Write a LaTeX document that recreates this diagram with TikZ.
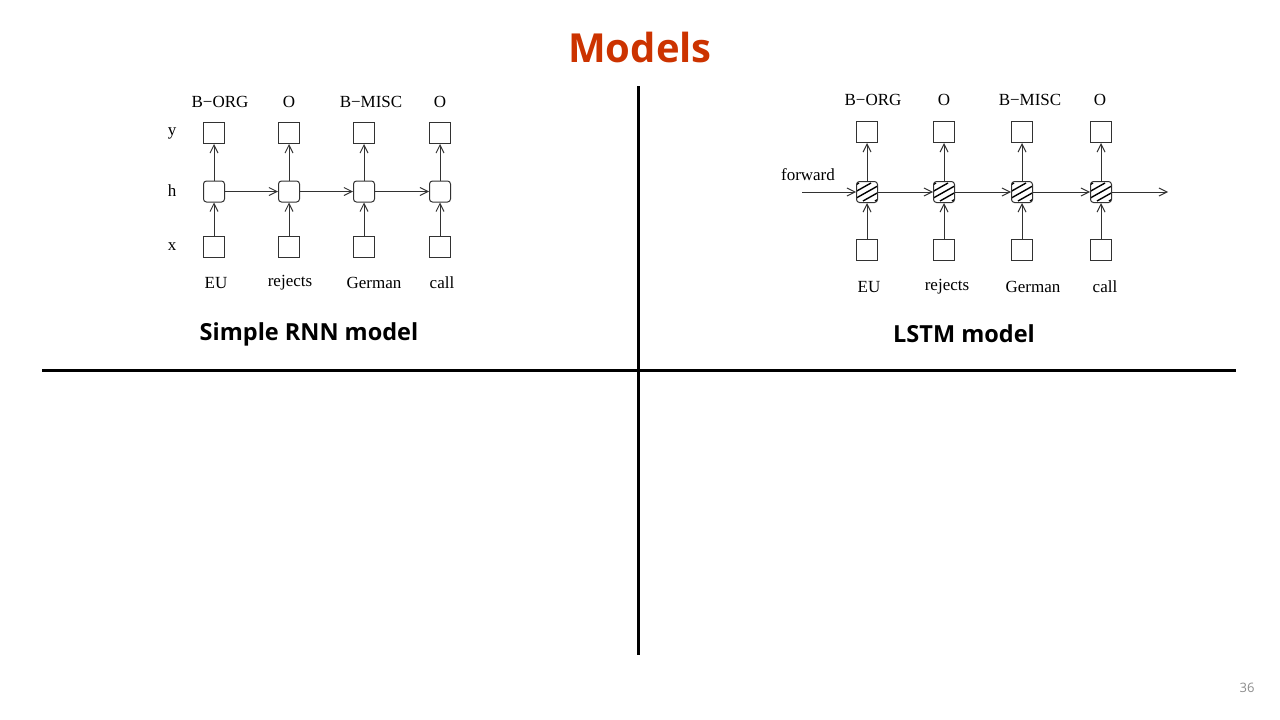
\documentclass[tikz,border=0pt]{standalone}
\usepackage{fontspec}
\setmainfont{Liberation Serif}
\newfontfamily\headfont{Open Sans}
\usetikzlibrary{arrows.meta,calc}
\definecolor{titlered}{RGB}{204,51,0}
\definecolor{ink}{RGB}{50,50,50}
\definecolor{pagegray}{RGB}{140,140,140}
\tikzset{
  diag/.style={font=\fontsize{17}{20}\selectfont, text=black},
  sqbox/.style={draw=ink, line width=1pt, minimum width=21pt, minimum height=21pt, inner sep=0pt},
  hbox/.style={sqbox, rounded corners=3pt},
  lbox/.style={hbox, fill=white, path picture={
      \foreach \i in {-2,...,2}
        \draw[line width=1.4pt, black] ($(path picture bounding box.center)+(\i*12-16,9)$) -- ++(32,-18);
    }},
  conn/.style={draw=ink, line width=1pt, -{Straight Barb[length=8pt,width=8pt]}},
  divider/.style={line width=3pt, black},
  caption/.style={font=\headfont\bfseries\fontsize{23.5}{27}\selectfont},
}
\begin{document}
\begin{tikzpicture}[x=1pt,y=-1pt]
\useasboundingbox (0,0) rectangle (1280,720);
% title
\node[font=\headfont\bfseries\fontsize{40}{46}\selectfont, text=titlered] (title) at (640,47) {Models};
% dividers
\coordinate (vt) at (638,86);
\coordinate (vb) at (638,655);
\coordinate (hl) at (42,370);
\coordinate (hr) at (1236,370);
\draw[divider] (vt) -- (vb);
\draw[divider] (hl) -- (hr);

% ---------- Simple RNN ----------
\begin{scope}[diag]
\node (ry) at (172,133) {y};
\node (rh) at (172,191) {h};
\node (rx) at (172,247) {x};
\foreach \n/\cx/\tl/\tlx/\bl/\blx in {1/214/B−ORG/220/EU/216, 2/289/O/289/rejects/290, 3/364/B−MISC/371/German/374, 4/440/O/440/call/442} {
  \node[sqbox] (sy\n) at (\cx,133) {};
  \node[hbox] (sh\n) at (\cx,191.5) {};
  \node[sqbox] (sx\n) at (\cx,247) {};
  \node (st\n) at (\tlx,102) {\tl};
  \node (sb\n) at (\blx,283) {\bl};
  \draw[conn] (sx\n) -- (sh\n);
  \draw[conn] (sh\n) -- (sy\n);
}
\draw[conn] (sh1) -- (sh2);
\draw[conn] (sh2) -- (sh3);
\draw[conn] (sh3) -- (sh4);
\end{scope}
\node[caption] (cap1) at (309,334) {Simple RNN model};

% ---------- LSTM ----------
\begin{scope}[diag]
\node (fw) at (808,175) {forward};
\coordinate (fin) at (802,192);
\coordinate (fout) at (1168,192);
\foreach \n/\cx/\tl/\tlx/\bl/\blx in {1/867/B−ORG/873/EU/869, 2/944/O/944/rejects/947, 3/1022/B−MISC/1030/German/1033, 4/1101/O/1100/call/1105} {
  \node[sqbox] (ly\n) at (\cx,132) {};
  \node[lbox] (lh\n) at (\cx,192) {};
  \node[sqbox] (lx\n) at (\cx,250) {};
  \node (lt\n) at (\tlx,100) {\tl};
  \node (lb\n) at (\blx,287) {\bl};
  \draw[conn] (lx\n) -- (lh\n);
  \draw[conn] (lh\n) -- (ly\n);
}
\draw[conn] (fin) -- (lh1);
\draw[conn] (lh1) -- (lh2);
\draw[conn] (lh2) -- (lh3);
\draw[conn] (lh3) -- (lh4);
\draw[conn] (lh4) -- (fout);
\end{scope}
\node[caption] (cap2) at (964,334) {LSTM model};

% page number
\node[font=\headfont\fontsize{13}{15}\selectfont, text=pagegray] (pg) at (1247,688) {36};
\end{tikzpicture}
\end{document}
